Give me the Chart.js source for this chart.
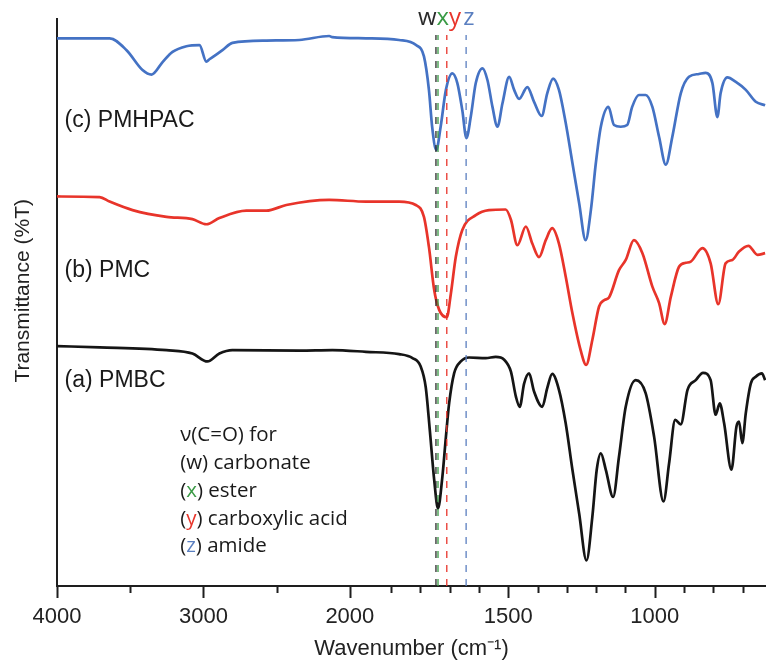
<!DOCTYPE html>
<html>
<head>
<meta charset="utf-8">
<script src="https://cdn.jsdelivr.net/npm/chart.js@4/dist/chart.umd.min.js"></script>
<style>
  html, body { margin: 0; padding: 0; background: #ffffff; }
  canvas { display: block; }
</style>
</head>
<body>
<canvas id="ftir" width="766" height="666"></canvas>
<script>
// ---- spectra (wavenumber in cm-1, transmittance in offset %T units) ----
const wnPMHPAC = [4000,3641,3525,3416,3354,3279,3211,3116,3027,2980,2959,2870,2802,2570,2345,2141,2120,1961,1873,1815,1788,1771,1760,1746,1731,1713,1691,1674,1657,1643,1628,1611,1588,1571,1554,1537,1520,1497,1480,1463,1435,1412,1386,1367,1347,1327,1304,1281,1258,1236,1218,1201,1184,1158,1139,1116,1094,1077,1054,1031,1008,985,962,940,911,883,849,826,803,786,775,752,723,689,655,623];
const tPMHPAC  = [96.6,96.6,94.5,91.0,90.2,92.4,94.2,95.2,95.4,92.5,92.9,94.5,95.8,96.2,96.3,97.0,96.8,96.6,96.3,95.4,93.4,87.5,81.0,76.9,81.0,87.5,90.4,88.7,83.9,79.0,82.8,88.7,91.3,89.2,84.5,81.0,85.1,89.8,87.5,85.9,88.0,85.4,82.9,86.9,89.5,87.5,81.7,74.6,67.5,61.0,66.3,74.6,81.0,84.5,81.3,81.0,81.3,84.5,86.6,86.6,84.5,79.2,74.3,79.2,86.9,89.8,90.3,90.5,88.7,82.7,86.9,89.7,88.9,87.5,85.4,84.8];

const wnPMC = [4000,3709,3641,3484,3252,3075,2980,2891,2707,2570,2434,2141,1961,1873,1816,1788,1771,1753,1736,1710,1696,1679,1657,1611,1566,1509,1491,1469,1440,1418,1395,1372,1350,1327,1304,1281,1253,1234,1213,1190,1173,1156,1122,1099,1071,1042,1008,985,966,945,917,894,877,837,809,783,758,735,712,680,649,623];
const tPMC  = [68.7,68.6,67.8,66.3,65.1,64.7,63.8,64.9,66.2,66.2,67.2,68.1,67.8,67.8,67.2,65.1,59.8,52.2,48.7,47.4,51.6,58.1,62.8,65.4,66.3,66.4,64.6,60.1,63.4,60.4,58.0,61.0,63.1,60.4,54.6,48.1,41.6,39.0,43.4,49.3,50.4,50.9,55.7,57.5,61.0,58.7,52.8,49.9,46.2,51.0,56.3,57.0,57.2,59.6,56.9,49.7,56.9,57.5,59.0,60.0,58.4,58.7];

const wnPMBC = [4000,3709,3252,3075,2973,2891,2802,2345,2120,1961,1873,1827,1799,1782,1768,1753,1740,1725,1713,1702,1685,1662,1634,1577,1543,1514,1491,1474,1461,1446,1429,1412,1384,1367,1350,1327,1304,1281,1258,1233,1213,1198,1184,1167,1142,1122,1099,1065,1031,1002,970,951,930,911,888,860,835,809,792,778,763,738,721,712,701,689,672,655,634,623];
const tPMBC  = [42.3,42.1,41.6,41.0,39.6,41.0,41.6,41.5,41.6,41.3,40.9,40.2,38.7,35.1,27.5,18.7,13.7,19.3,26.3,32.2,37.5,39.6,40.3,40.2,40.4,39.9,37.8,33.4,31.6,35.7,37.5,34.3,31.6,34.9,37.4,34.6,28.7,20.5,12.8,4.5,12.2,20.5,23.4,20.5,15.7,22.8,31.6,36.3,34.0,26.3,14.9,21.6,29.3,28.5,34.6,36.3,37.6,36.3,30.2,32.2,28.7,20.5,28.1,29.0,25.2,30.5,35.7,36.9,37.5,36.3];

// carbonyl stretching band markers
const bandKeys  = ['w', 'x', 'y', 'z'];
const bandWn    = [1747, 1740, 1710, 1644];
const bandNames = ['carbonate', 'ester', 'carboxylic acid', 'amide'];

// axis ticks
const tickValues  = [4000,3500,3000,2500,2000,1900,1800,1700,1600,1500,1400,1300,1200,1100,1000,900,800,700];
const labelledTicks = [4000,3000,2000,1500,1000];

const seriesNames = ['(c) PMHPAC', '(b) PMC', '(a) PMBC'];

// ---- styles ----
const BLUE = '#4472c4', RED = '#e8342a', BLACK = '#151515', GREEN = '#3a9a45';
const bandColors = ['#2a2a2a', GREEN, RED, '#5a7fc0'];
const AXIS = '#1e1e1e';
const SANS = '"Liberation Sans", Arial, sans-serif';
const HUMAN = '"Open Sans", "Noto Sans", sans-serif';

// ---- wavenumber axis with a 2x expansion below 2000 cm-1 ----
function toU(w) {
  if (w >= 2000) return (4000 - w) / 2;
  if (w >= 1900) return 1000 + (2000 - w) * 1.41;
  return 1141 + (1900 - w);
}
function fromU(u) {
  if (u <= 1000) return 4000 - 2 * u;
  if (u <= 1141) return 2000 - (u - 1000) / 1.41;
  return 1900 - (u - 1141);
}
class SplitWavenumberScale extends Chart.LinearScale {
  getPixelForValue(value) {
    if (value === null || value === undefined || isNaN(value)) return NaN;
    const u0 = toU(this.max), u1 = toU(this.min);
    return this.getPixelForDecimal((toU(value) - u0) / (u1 - u0));
  }
  getValueForPixel(pixel) {
    const u0 = toU(this.max), u1 = toU(this.min);
    return fromU(u0 + this.getDecimalForPixel(pixel) * (u1 - u0));
  }
}
SplitWavenumberScale.id = 'splitWavenumber';
SplitWavenumberScale.defaults = Chart.LinearScale.defaults;
Chart.register(SplitWavenumberScale);

const toPoints = (xs, ys) => xs.map((x, i) => ({ x: x, y: ys[i] }));

const spectrum = (label, xs, ys, color) => ({
  label: label,
  data: toPoints(xs, ys),
  borderColor: color,
  borderWidth: 2.7,
  pointRadius: 0,
  cubicInterpolationMode: 'monotone',
  fill: false
});

const bandLines = bandWn.map((w, i) => ({
  label: bandKeys[i],
  data: [{ x: w, y: 0 }, { x: w, y: 97.2 }],
  borderColor: bandColors[i],
  borderWidth: 1.3,
  borderDash: [7, 7],
  pointRadius: 0,
  fill: false
}));

// tick marks (long for labelled values, short otherwise) and text labels
const decorations = {
  id: 'decorations',
  afterDraw(chart) {
    const { ctx } = chart;
    const xs = chart.scales.x, ys = chart.scales.y;
    const base = chart.chartArea.bottom;
    ctx.save();
    ctx.strokeStyle = AXIS;
    ctx.lineWidth = 2;
    tickValues.forEach(v => {
      const px = Math.round(xs.getPixelForValue(v)) + 0.5;
      const len = labelledTicks.includes(v) ? 12 : 7;
      ctx.beginPath();
      ctx.moveTo(px, base);
      ctx.lineTo(px, base + len);
      ctx.stroke();
    });

    // spectrum names
    ctx.fillStyle = '#1a1a1a';
    ctx.font = '23px ' + SANS;
    ctx.textBaseline = 'middle';
    ctx.textAlign = 'left';
    const nameY = [82.0, 55.6, 36.2];
    seriesNames.forEach((s, i) => {
      ctx.fillText(s, xs.getPixelForValue(3948), ys.getPixelForValue(nameY[i]));
    });

    // band letters above the markers
    ctx.font = '500 24px ' + HUMAN;
    ctx.textBaseline = 'alphabetic';
    let lx = xs.getPixelForValue(bandWn[0]) - 18;
    const ly = ys.getPixelForValue(98.9);
    bandKeys.forEach((k, i) => {
      ctx.fillStyle = bandColors[i];
      ctx.fillText(k, lx, ly);
      lx += ctx.measureText(k).width + (i === 2 ? 2 : 0);
    });

    // key to the band letters
    ctx.font = '20.5px ' + HUMAN;
    ctx.textBaseline = 'middle';
    const kx = xs.getPixelForValue(3159);
    const rowsY = [26.6, 21.7, 16.8, 11.8, 7.1];
    ctx.fillStyle = '#1a1a1a';
    ctx.fillText('\u03BD(C=O) for', kx, ys.getPixelForValue(rowsY[0]));
    bandKeys.forEach((k, i) => {
      const y = ys.getPixelForValue(rowsY[i + 1]);
      let x = kx;
      const parts = [['(', '#1a1a1a'], [k, i === 0 ? '#1a1a1a' : bandColors[i]], [') ' + bandNames[i], '#1a1a1a']];
      parts.forEach(([t, c]) => {
        ctx.fillStyle = c;
        ctx.fillText(t, x, y);
        x += ctx.measureText(t).width;
      });
    });
    ctx.restore();
  }
};

new Chart(document.getElementById('ftir'), {
  type: 'line',
  data: {
    datasets: [
      ...bandLines,
      spectrum(seriesNames[0], wnPMHPAC, tPMHPAC, BLUE),
      spectrum(seriesNames[1], wnPMC, tPMC, RED),
      spectrum(seriesNames[2], wnPMBC, tPMBC, BLACK)
    ]
  },
  options: {
    responsive: false,
    devicePixelRatio: 1,
    animation: false,
    layout: { padding: { top: 19, right: 0, bottom: 0, left: 0 } },
    plugins: { legend: { display: false }, tooltip: { enabled: false } },
    scales: {
      x: {
        type: 'splitWavenumber',
        min: 620,
        max: 4000,
        afterFit: s => { s.height = 80; },
        afterBuildTicks: s => { s.ticks = tickValues.map(v => ({ value: v })); },
        grid: { display: false, drawTicks: true, tickLength: 12 },
        border: { display: true, color: AXIS, width: 2 },
        ticks: {
          autoSkip: false,
          maxRotation: 0,
          padding: 6,
          color: '#222',
          font: { family: SANS, size: 22 },
          callback: v => labelledTicks.includes(v) ? String(v) : ''
        },
        title: {
          display: true,
          text: 'Wavenumber (cm\u207B\u00B9)',
          color: '#222',
          font: { family: SANS, size: 22 },
          padding: { top: 0, bottom: 4 }
        }
      },
      y: {
        min: 0,
        max: 100,
        afterFit: s => { s.width = 57; },
        grid: { display: false, drawTicks: false },
        border: { display: true, color: AXIS, width: 2 },
        ticks: { display: false },
        title: {
          display: true,
          text: '    Transmittance (%T)',
          color: '#222',
          font: { family: SANS, size: 21 },
          padding: { top: 11, bottom: 0 }
        }
      }
    }
  },
  plugins: [decorations]
});
</script>
</body>
</html>
